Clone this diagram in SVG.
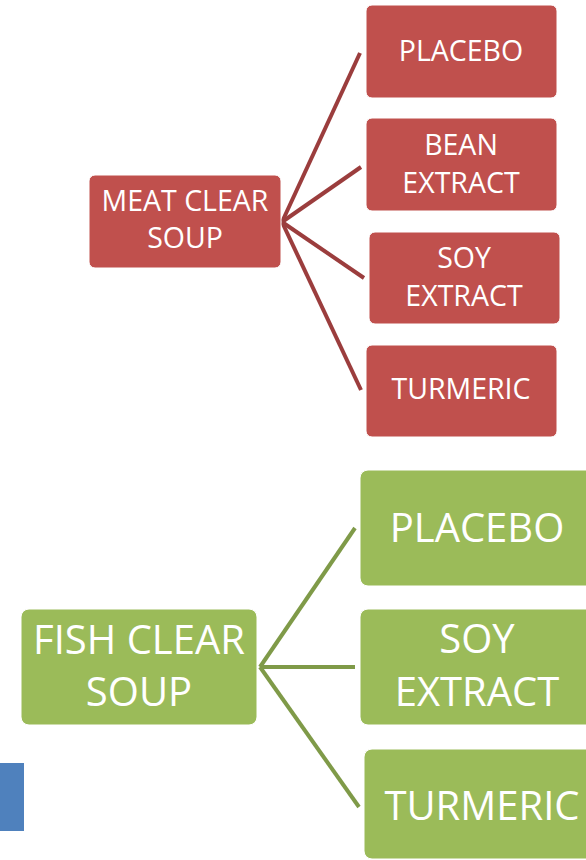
<svg xmlns="http://www.w3.org/2000/svg" width="586" height="860" viewBox="0 0 586 860">
<style>
.red{fill:#C0504D;stroke:#ffffff;stroke-width:1}
.green{fill:#9BBB59;stroke:#ffffff;stroke-width:1}
.t1{font-family:"Open Sans","Noto Sans",sans-serif;font-size:28.5px;fill:#ffffff;text-anchor:middle}
.t2{font-family:"Open Sans","Noto Sans",sans-serif;font-size:40px;fill:#ffffff;text-anchor:middle}
.cr{stroke:#9B3D3D;stroke-width:4;fill:none}
.cg{stroke:#7F9A48;stroke-width:4;fill:none}
</style>
<rect width="586" height="860" fill="#ffffff"/>
<g id="connectors">
<line class="cr" x1="282" y1="222" x2="360" y2="53"/>
<line class="cr" x1="282" y1="222" x2="361" y2="167"/>
<line class="cr" x1="282" y1="222" x2="364" y2="278"/>
<line class="cr" x1="282" y1="222" x2="361" y2="390"/>
<line class="cg" x1="260" y1="667" x2="355" y2="528"/>
<line class="cg" x1="260" y1="667" x2="355" y2="667"/>
<line class="cg" x1="260" y1="667" x2="359" y2="807"/>
</g>
<g id="meat">
<rect class="red" x="89" y="175" width="192" height="93" rx="6"/>
<text class="t1" x="185" y="210.5">MEAT CLEAR</text>
<text class="t1" x="185" y="248">SOUP</text>
</g>
<g id="meat-placebo">
<rect class="red" x="366" y="5" width="191" height="93" rx="6"/>
<text class="t1" x="461" y="61">PLACEBO</text>
</g>
<g id="meat-bean">
<rect class="red" x="366" y="118" width="191" height="93" rx="6"/>
<text class="t1" x="461" y="155">BEAN</text>
<text class="t1" x="461" y="192.5">EXTRACT</text>
</g>
<g id="meat-soy">
<rect class="red" x="369" y="232" width="191" height="92" rx="6"/>
<text class="t1" x="464" y="267.5">SOY</text>
<text class="t1" x="464" y="305.5">EXTRACT</text>
</g>
<g id="meat-turmeric">
<rect class="red" x="366" y="345" width="191" height="92" rx="6"/>
<text class="t1" x="461" y="399">TURMERIC</text>
</g>
<g id="fish">
<rect class="green" x="21" y="609" width="236" height="116" rx="8"/>
<text class="t2" x="139" y="654">FISH CLEAR</text>
<text class="t2" x="139" y="706">SOUP</text>
</g>
<g id="fish-placebo">
<rect class="green" x="360" y="470" width="236" height="116" rx="8"/>
<text class="t2" x="477" y="541.5">PLACEBO</text>
</g>
<g id="fish-soy">
<rect class="green" x="360" y="609" width="236" height="116" rx="8"/>
<text class="t2" x="477" y="653">SOY</text>
<text class="t2" x="477" y="705.5">EXTRACT</text>
</g>
<g id="fish-turmeric">
<rect class="green" x="364" y="749" width="236" height="110" rx="8"/>
<text class="t2" x="482" y="820">TURMERIC</text>
</g>
<g id="blue">
<rect x="-5" y="763" width="29" height="68" fill="#4F81BD"/>
</g>
</svg>
